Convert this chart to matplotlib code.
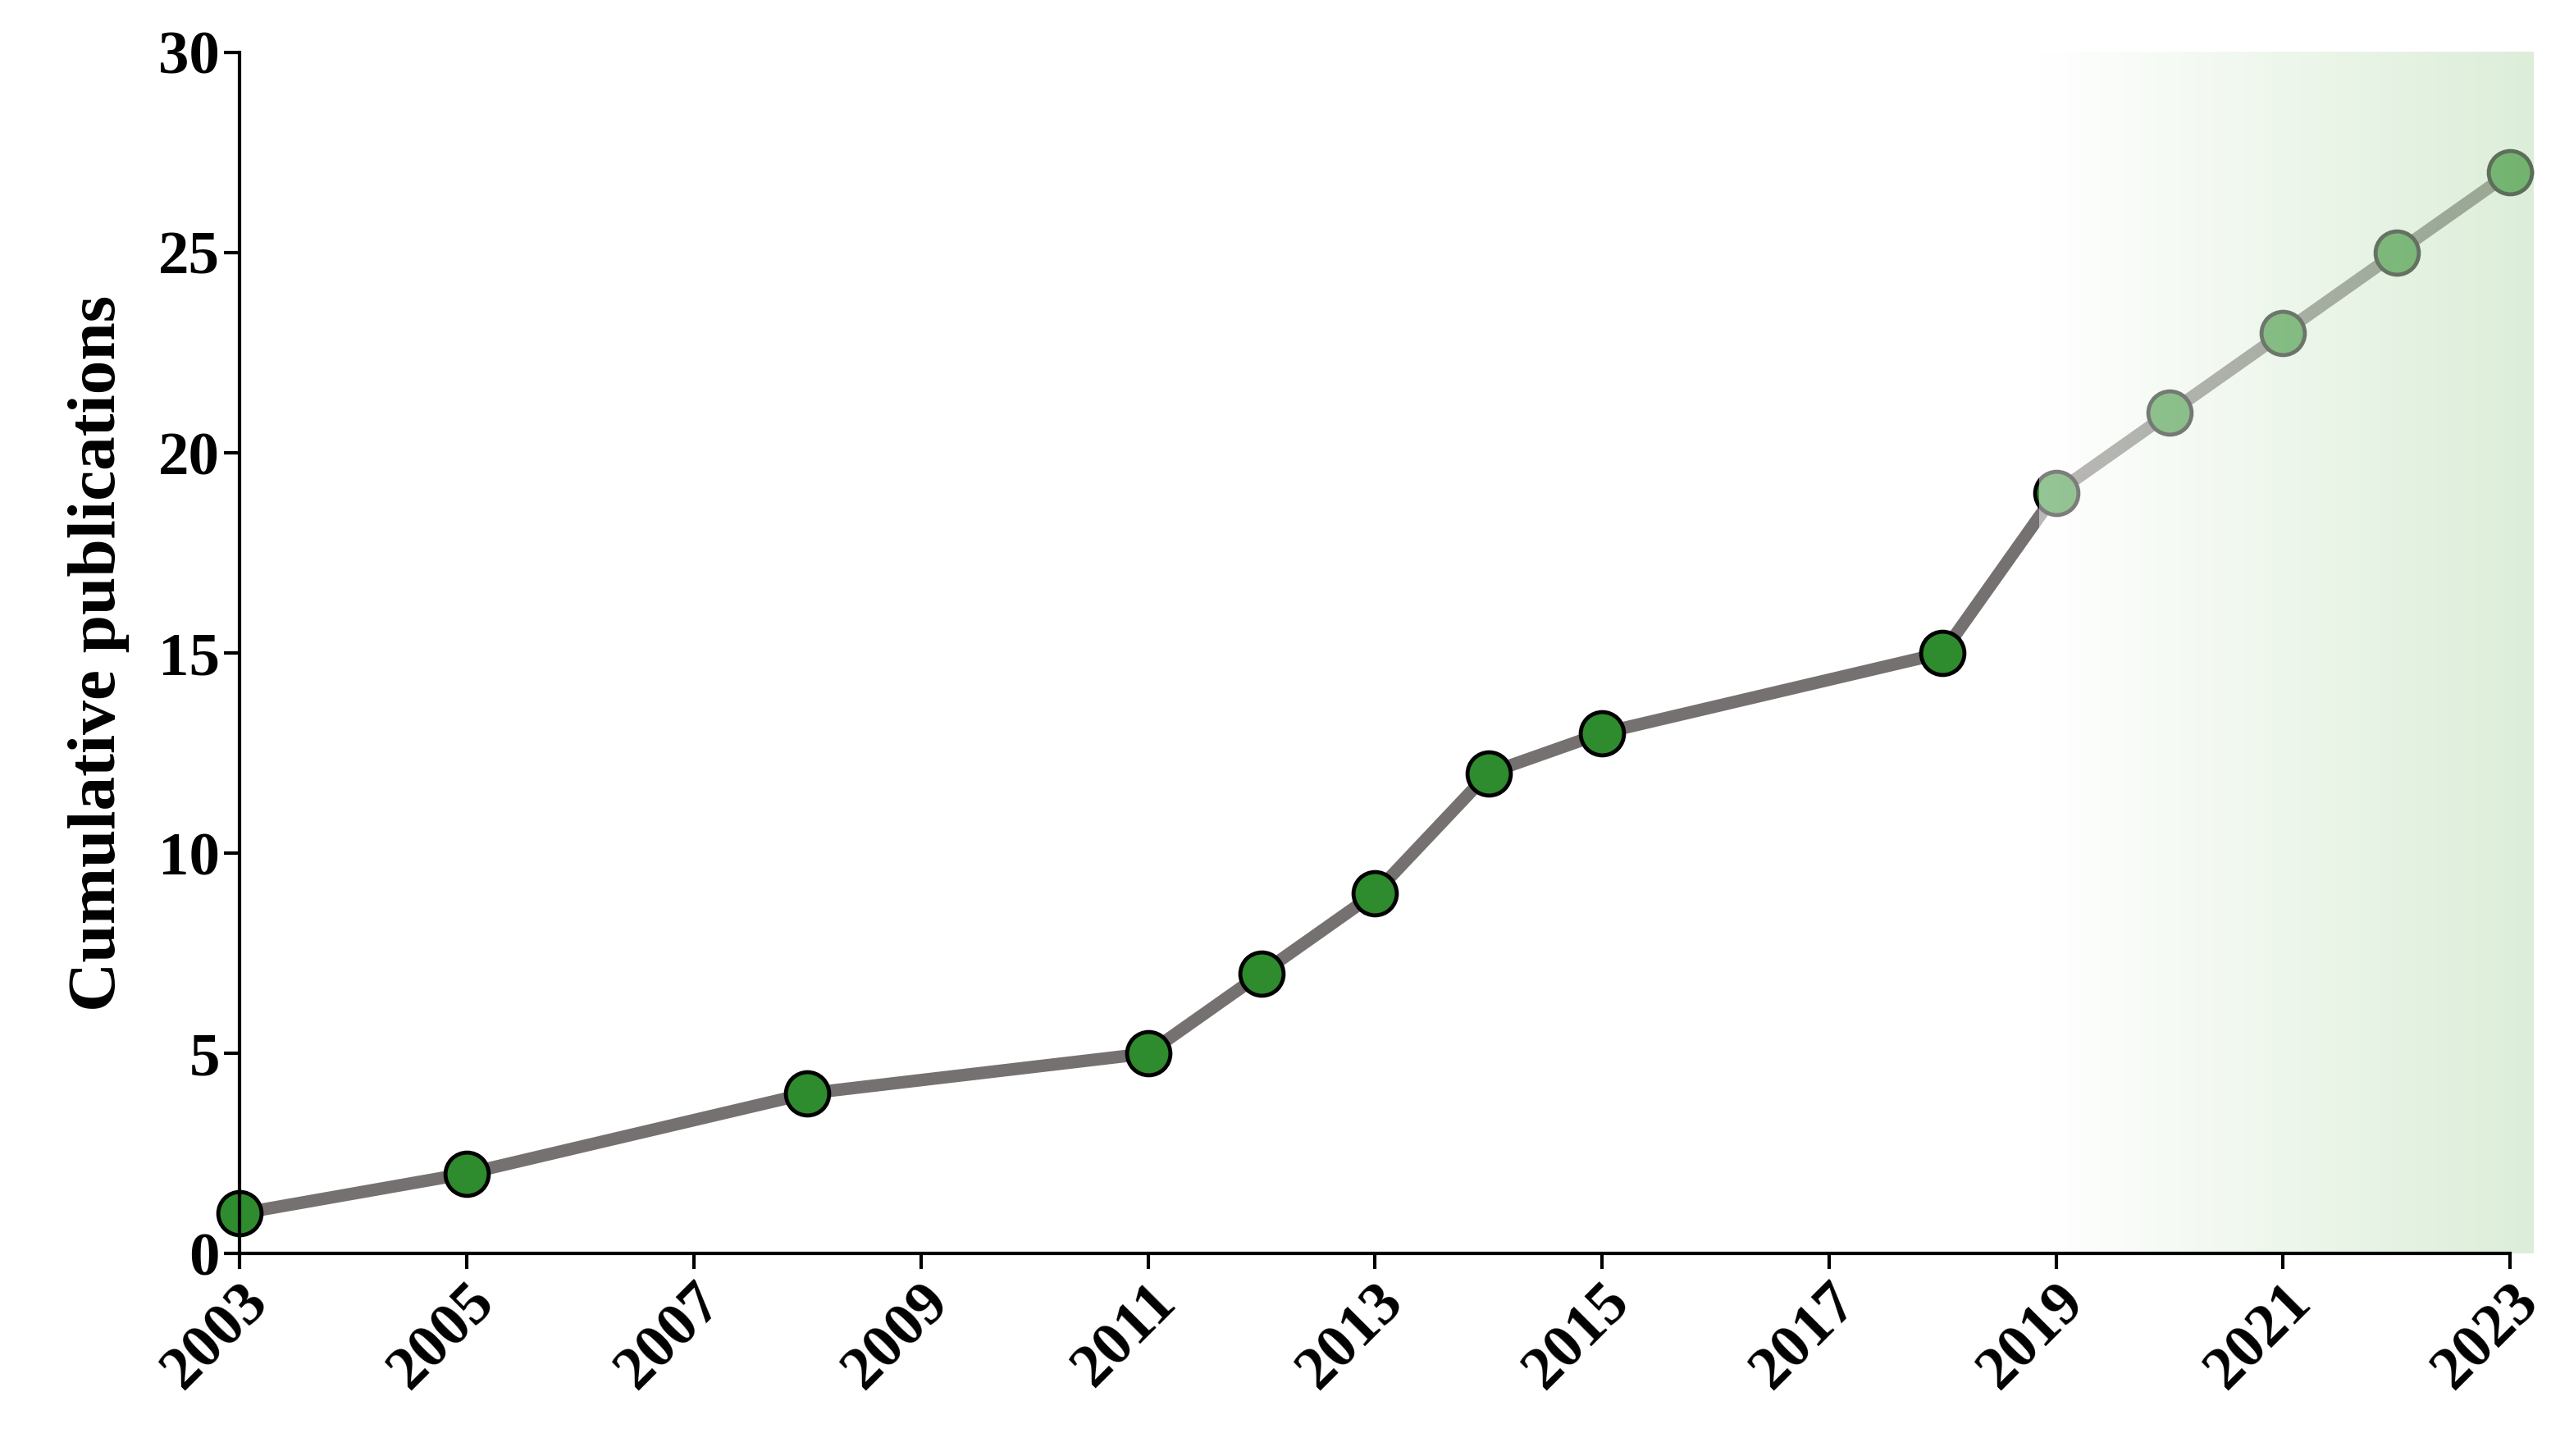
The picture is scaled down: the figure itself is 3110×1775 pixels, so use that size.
import numpy as np
import matplotlib.pyplot as plt
from matplotlib.colors import LinearSegmentedColormap

years = [2003, 2005, 2008, 2011, 2012, 2013, 2014, 2015, 2018, 2019, 2020, 2021, 2022, 2023]
cumulative = [1, 2, 4, 5, 7, 9, 12, 13, 15, 19, 21, 23, 25, 27]
xticks = list(range(2003, 2024, 2))
yticks = [0, 5, 10, 15, 20, 25, 30]

plt.rcParams['font.family'] = ['Liberation Serif', 'DejaVu Serif']
plt.rcParams['font.weight'] = 'bold'

fig = plt.figure(figsize=(31.1, 17.75), dpi=100)
ax = fig.add_axes([0.094, 0.139, 0.89, 0.825])

ax.plot(years, cumulative, color='#767171', lw=11, zorder=2, clip_on=False,
        marker='o', ms=38, mfc='#2e8b2e', mec='black', mew=3.5)

# green gradient band over the recent years
cmap = LinearSegmentedColormap.from_list('g', ['#ffffff', '#b9ddb2'])
grad = np.linspace(0, 1, 256).reshape(1, -1)
ax.imshow(grad, cmap=cmap, extent=[2018.85, 2023.2, 0, 30], aspect='auto',
          alpha=0.5, zorder=3, clip_on=False)

ax.set_xlim(2003, 2023)
ax.set_ylim(0, 30)
ax.set_xticks(xticks)
ax.set_yticks(yticks)
ax.tick_params(axis='both', labelsize=54, width=3, length=14, direction='out')
plt.setp(ax.get_xticklabels(), rotation=45, ha='right', rotation_mode='anchor')
ax.set_ylabel('Cumulative publications', fontsize=60, fontweight='bold', labelpad=25)

for s in ['top', 'right']:
    ax.spines[s].set_visible(False)
for s in ['left', 'bottom']:
    ax.spines[s].set_linewidth(3)
    ax.spines[s].set_zorder(5)

fig.savefig('out.png', dpi=100)
